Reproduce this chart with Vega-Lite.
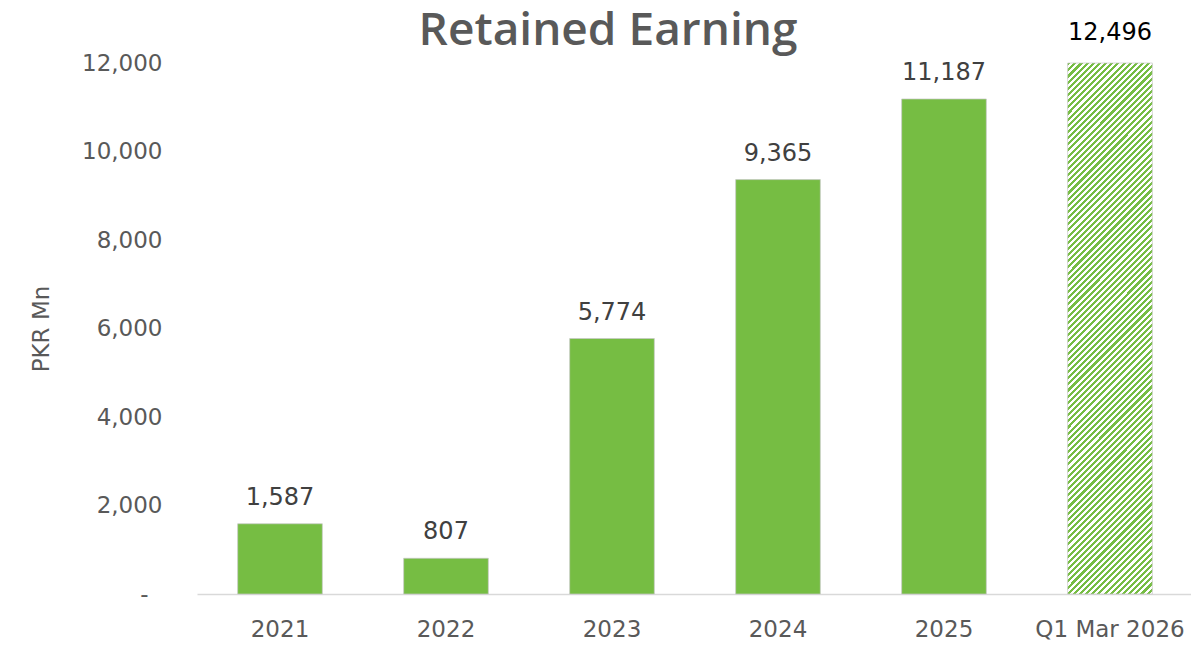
{
  "$schema": "https://vega.github.io/schema/vega-lite/v6.json",
  "autosize": "none",
  "width": 996,
  "height": 531,
  "padding": {"left": 197, "top": 63, "right": 0, "bottom": 56},
  "background": "#ffffff",
  "title": {
    "text": "Retained Earning",
    "font": "Open Sans",
    "fontSize": 46,
    "fontWeight": 600,
    "color": "#595959",
    "frame": "group",
    "anchor": "middle",
    "dx": -87,
    "baseline": "alphabetic",
    "offset": -70
  },
  "data": {
    "values": [
      {"year": "2021", "value": 1587},
      {"year": "2022", "value": 807},
      {"year": "2023", "value": 5774},
      {"year": "2024", "value": 9365},
      {"year": "2025", "value": 11187},
      {"year": "Q1 Mar 2026", "value": 12496}
    ]
  },
  "config": {
    "view": {"stroke": null},
    "axis": {
      "labelFont": "DejaVu Sans",
      "titleFont": "DejaVu Sans",
      "labelColor": "#595959",
      "titleColor": "#595959",
      "grid": false,
      "ticks": false
    }
  },
  "encoding": {
    "x": {
      "field": "year",
      "type": "nominal",
      "sort": null,
      "scale": {"paddingInner": 0.49, "paddingOuter": 0.245},
      "axis": {
        "title": null,
        "labelAngle": 0,
        "labelFontSize": 23,
        "labelPadding": 24,
        "domainColor": "#d9d9d9",
        "domainWidth": 1.5
      }
    },
    "y": {
      "field": "value",
      "type": "quantitative",
      "scale": {"domain": [0, 12000], "nice": false, "clamp": true},
      "axis": {
        "title": "PKR Mn",
        "titleFontSize": 23,
        "titleFontWeight": "normal",
        "titlePadding": 28,
        "labelFontSize": 23,
        "labelPadding": {"condition": {"test": "datum.value === 0", "value": 49}, "value": 35},
        "domain": false,
        "values": [0, 2000, 4000, 6000, 8000, 10000, 12000],
        "labelExpr": "datum.value === 0 ? '-' : format(datum.value, ',')"
      }
    }
  },
  "layer": [
    {
      "transform": [{"filter": "datum.year !== 'Q1 Mar 2026'"}],
      "mark": {"type": "bar", "color": "#76bd43", "stroke": "#c8c8c8", "strokeWidth": 1, "strokeOpacity": 0.7}
    },
    {
      "transform": [{"filter": "datum.year === 'Q1 Mar 2026'"}],
      "mark": {
        "type": "bar",
        "stroke": "#c8c8c8",
        "strokeWidth": 1,
        "strokeOpacity": 0.7,
        "fill": {
          "gradient": "linear",
          "x1": 0, "y1": 0, "x2": 0.1804, "y2": 1.1307,
          "stops": [
{"offset":0,"color":"#76bd43"},{"offset":0.005,"color":"#76bd43"},{"offset":0.005,"color":"#ffffff"},{"offset":0.01,"color":"#ffffff"},
{"offset":0.01,"color":"#76bd43"},{"offset":0.015,"color":"#76bd43"},{"offset":0.015,"color":"#ffffff"},{"offset":0.02,"color":"#ffffff"},
{"offset":0.02,"color":"#76bd43"},{"offset":0.025,"color":"#76bd43"},{"offset":0.025,"color":"#ffffff"},{"offset":0.03,"color":"#ffffff"},
{"offset":0.03,"color":"#76bd43"},{"offset":0.035,"color":"#76bd43"},{"offset":0.035,"color":"#ffffff"},{"offset":0.04,"color":"#ffffff"},
{"offset":0.04,"color":"#76bd43"},{"offset":0.045,"color":"#76bd43"},{"offset":0.045,"color":"#ffffff"},{"offset":0.05,"color":"#ffffff"},
{"offset":0.05,"color":"#76bd43"},{"offset":0.055,"color":"#76bd43"},{"offset":0.055,"color":"#ffffff"},{"offset":0.06,"color":"#ffffff"},
{"offset":0.06,"color":"#76bd43"},{"offset":0.065,"color":"#76bd43"},{"offset":0.065,"color":"#ffffff"},{"offset":0.07,"color":"#ffffff"},
{"offset":0.07,"color":"#76bd43"},{"offset":0.075,"color":"#76bd43"},{"offset":0.075,"color":"#ffffff"},{"offset":0.08,"color":"#ffffff"},
{"offset":0.08,"color":"#76bd43"},{"offset":0.085,"color":"#76bd43"},{"offset":0.085,"color":"#ffffff"},{"offset":0.09,"color":"#ffffff"},
{"offset":0.09,"color":"#76bd43"},{"offset":0.095,"color":"#76bd43"},{"offset":0.095,"color":"#ffffff"},{"offset":0.1,"color":"#ffffff"},
{"offset":0.1,"color":"#76bd43"},{"offset":0.105,"color":"#76bd43"},{"offset":0.105,"color":"#ffffff"},{"offset":0.11,"color":"#ffffff"},
{"offset":0.11,"color":"#76bd43"},{"offset":0.115,"color":"#76bd43"},{"offset":0.115,"color":"#ffffff"},{"offset":0.12,"color":"#ffffff"},
{"offset":0.12,"color":"#76bd43"},{"offset":0.125,"color":"#76bd43"},{"offset":0.125,"color":"#ffffff"},{"offset":0.13,"color":"#ffffff"},
{"offset":0.13,"color":"#76bd43"},{"offset":0.135,"color":"#76bd43"},{"offset":0.135,"color":"#ffffff"},{"offset":0.14,"color":"#ffffff"},
{"offset":0.14,"color":"#76bd43"},{"offset":0.145,"color":"#76bd43"},{"offset":0.145,"color":"#ffffff"},{"offset":0.15,"color":"#ffffff"},
{"offset":0.15,"color":"#76bd43"},{"offset":0.155,"color":"#76bd43"},{"offset":0.155,"color":"#ffffff"},{"offset":0.16,"color":"#ffffff"},
{"offset":0.16,"color":"#76bd43"},{"offset":0.165,"color":"#76bd43"},{"offset":0.165,"color":"#ffffff"},{"offset":0.17,"color":"#ffffff"},
{"offset":0.17,"color":"#76bd43"},{"offset":0.175,"color":"#76bd43"},{"offset":0.175,"color":"#ffffff"},{"offset":0.18,"color":"#ffffff"},
{"offset":0.18,"color":"#76bd43"},{"offset":0.185,"color":"#76bd43"},{"offset":0.185,"color":"#ffffff"},{"offset":0.19,"color":"#ffffff"},
{"offset":0.19,"color":"#76bd43"},{"offset":0.195,"color":"#76bd43"},{"offset":0.195,"color":"#ffffff"},{"offset":0.2,"color":"#ffffff"},
{"offset":0.2,"color":"#76bd43"},{"offset":0.205,"color":"#76bd43"},{"offset":0.205,"color":"#ffffff"},{"offset":0.21,"color":"#ffffff"},
{"offset":0.21,"color":"#76bd43"},{"offset":0.215,"color":"#76bd43"},{"offset":0.215,"color":"#ffffff"},{"offset":0.22,"color":"#ffffff"},
{"offset":0.22,"color":"#76bd43"},{"offset":0.225,"color":"#76bd43"},{"offset":0.225,"color":"#ffffff"},{"offset":0.23,"color":"#ffffff"},
{"offset":0.23,"color":"#76bd43"},{"offset":0.235,"color":"#76bd43"},{"offset":0.235,"color":"#ffffff"},{"offset":0.24,"color":"#ffffff"},
{"offset":0.24,"color":"#76bd43"},{"offset":0.245,"color":"#76bd43"},{"offset":0.245,"color":"#ffffff"},{"offset":0.25,"color":"#ffffff"},
{"offset":0.25,"color":"#76bd43"},{"offset":0.255,"color":"#76bd43"},{"offset":0.255,"color":"#ffffff"},{"offset":0.26,"color":"#ffffff"},
{"offset":0.26,"color":"#76bd43"},{"offset":0.265,"color":"#76bd43"},{"offset":0.265,"color":"#ffffff"},{"offset":0.27,"color":"#ffffff"},
{"offset":0.27,"color":"#76bd43"},{"offset":0.275,"color":"#76bd43"},{"offset":0.275,"color":"#ffffff"},{"offset":0.28,"color":"#ffffff"},
{"offset":0.28,"color":"#76bd43"},{"offset":0.285,"color":"#76bd43"},{"offset":0.285,"color":"#ffffff"},{"offset":0.29,"color":"#ffffff"},
{"offset":0.29,"color":"#76bd43"},{"offset":0.295,"color":"#76bd43"},{"offset":0.295,"color":"#ffffff"},{"offset":0.3,"color":"#ffffff"},
{"offset":0.3,"color":"#76bd43"},{"offset":0.305,"color":"#76bd43"},{"offset":0.305,"color":"#ffffff"},{"offset":0.31,"color":"#ffffff"},
{"offset":0.31,"color":"#76bd43"},{"offset":0.315,"color":"#76bd43"},{"offset":0.315,"color":"#ffffff"},{"offset":0.32,"color":"#ffffff"},
{"offset":0.32,"color":"#76bd43"},{"offset":0.325,"color":"#76bd43"},{"offset":0.325,"color":"#ffffff"},{"offset":0.33,"color":"#ffffff"},
{"offset":0.33,"color":"#76bd43"},{"offset":0.335,"color":"#76bd43"},{"offset":0.335,"color":"#ffffff"},{"offset":0.34,"color":"#ffffff"},
{"offset":0.34,"color":"#76bd43"},{"offset":0.345,"color":"#76bd43"},{"offset":0.345,"color":"#ffffff"},{"offset":0.35,"color":"#ffffff"},
{"offset":0.35,"color":"#76bd43"},{"offset":0.355,"color":"#76bd43"},{"offset":0.355,"color":"#ffffff"},{"offset":0.36,"color":"#ffffff"},
{"offset":0.36,"color":"#76bd43"},{"offset":0.365,"color":"#76bd43"},{"offset":0.365,"color":"#ffffff"},{"offset":0.37,"color":"#ffffff"},
{"offset":0.37,"color":"#76bd43"},{"offset":0.375,"color":"#76bd43"},{"offset":0.375,"color":"#ffffff"},{"offset":0.38,"color":"#ffffff"},
{"offset":0.38,"color":"#76bd43"},{"offset":0.385,"color":"#76bd43"},{"offset":0.385,"color":"#ffffff"},{"offset":0.39,"color":"#ffffff"},
{"offset":0.39,"color":"#76bd43"},{"offset":0.395,"color":"#76bd43"},{"offset":0.395,"color":"#ffffff"},{"offset":0.4,"color":"#ffffff"},
{"offset":0.4,"color":"#76bd43"},{"offset":0.405,"color":"#76bd43"},{"offset":0.405,"color":"#ffffff"},{"offset":0.41,"color":"#ffffff"},
{"offset":0.41,"color":"#76bd43"},{"offset":0.415,"color":"#76bd43"},{"offset":0.415,"color":"#ffffff"},{"offset":0.42,"color":"#ffffff"},
{"offset":0.42,"color":"#76bd43"},{"offset":0.425,"color":"#76bd43"},{"offset":0.425,"color":"#ffffff"},{"offset":0.43,"color":"#ffffff"},
{"offset":0.43,"color":"#76bd43"},{"offset":0.435,"color":"#76bd43"},{"offset":0.435,"color":"#ffffff"},{"offset":0.44,"color":"#ffffff"},
{"offset":0.44,"color":"#76bd43"},{"offset":0.445,"color":"#76bd43"},{"offset":0.445,"color":"#ffffff"},{"offset":0.45,"color":"#ffffff"},
{"offset":0.45,"color":"#76bd43"},{"offset":0.455,"color":"#76bd43"},{"offset":0.455,"color":"#ffffff"},{"offset":0.46,"color":"#ffffff"},
{"offset":0.46,"color":"#76bd43"},{"offset":0.465,"color":"#76bd43"},{"offset":0.465,"color":"#ffffff"},{"offset":0.47,"color":"#ffffff"},
{"offset":0.47,"color":"#76bd43"},{"offset":0.475,"color":"#76bd43"},{"offset":0.475,"color":"#ffffff"},{"offset":0.48,"color":"#ffffff"},
{"offset":0.48,"color":"#76bd43"},{"offset":0.485,"color":"#76bd43"},{"offset":0.485,"color":"#ffffff"},{"offset":0.49,"color":"#ffffff"},
{"offset":0.49,"color":"#76bd43"},{"offset":0.495,"color":"#76bd43"},{"offset":0.495,"color":"#ffffff"},{"offset":0.5,"color":"#ffffff"},
{"offset":0.5,"color":"#76bd43"},{"offset":0.505,"color":"#76bd43"},{"offset":0.505,"color":"#ffffff"},{"offset":0.51,"color":"#ffffff"},
{"offset":0.51,"color":"#76bd43"},{"offset":0.515,"color":"#76bd43"},{"offset":0.515,"color":"#ffffff"},{"offset":0.52,"color":"#ffffff"},
{"offset":0.52,"color":"#76bd43"},{"offset":0.525,"color":"#76bd43"},{"offset":0.525,"color":"#ffffff"},{"offset":0.53,"color":"#ffffff"},
{"offset":0.53,"color":"#76bd43"},{"offset":0.535,"color":"#76bd43"},{"offset":0.535,"color":"#ffffff"},{"offset":0.54,"color":"#ffffff"},
{"offset":0.54,"color":"#76bd43"},{"offset":0.545,"color":"#76bd43"},{"offset":0.545,"color":"#ffffff"},{"offset":0.55,"color":"#ffffff"},
{"offset":0.55,"color":"#76bd43"},{"offset":0.555,"color":"#76bd43"},{"offset":0.555,"color":"#ffffff"},{"offset":0.56,"color":"#ffffff"},
{"offset":0.56,"color":"#76bd43"},{"offset":0.565,"color":"#76bd43"},{"offset":0.565,"color":"#ffffff"},{"offset":0.57,"color":"#ffffff"},
{"offset":0.57,"color":"#76bd43"},{"offset":0.575,"color":"#76bd43"},{"offset":0.575,"color":"#ffffff"},{"offset":0.58,"color":"#ffffff"},
{"offset":0.58,"color":"#76bd43"},{"offset":0.585,"color":"#76bd43"},{"offset":0.585,"color":"#ffffff"},{"offset":0.59,"color":"#ffffff"},
{"offset":0.59,"color":"#76bd43"},{"offset":0.595,"color":"#76bd43"},{"offset":0.595,"color":"#ffffff"},{"offset":0.6,"color":"#ffffff"},
{"offset":0.6,"color":"#76bd43"},{"offset":0.605,"color":"#76bd43"},{"offset":0.605,"color":"#ffffff"},{"offset":0.61,"color":"#ffffff"},
{"offset":0.61,"color":"#76bd43"},{"offset":0.615,"color":"#76bd43"},{"offset":0.615,"color":"#ffffff"},{"offset":0.62,"color":"#ffffff"},
{"offset":0.62,"color":"#76bd43"},{"offset":0.625,"color":"#76bd43"},{"offset":0.625,"color":"#ffffff"},{"offset":0.63,"color":"#ffffff"},
{"offset":0.63,"color":"#76bd43"},{"offset":0.635,"color":"#76bd43"},{"offset":0.635,"color":"#ffffff"},{"offset":0.64,"color":"#ffffff"},
{"offset":0.64,"color":"#76bd43"},{"offset":0.645,"color":"#76bd43"},{"offset":0.645,"color":"#ffffff"},{"offset":0.65,"color":"#ffffff"},
{"offset":0.65,"color":"#76bd43"},{"offset":0.655,"color":"#76bd43"},{"offset":0.655,"color":"#ffffff"},{"offset":0.66,"color":"#ffffff"},
{"offset":0.66,"color":"#76bd43"},{"offset":0.665,"color":"#76bd43"},{"offset":0.665,"color":"#ffffff"},{"offset":0.67,"color":"#ffffff"},
{"offset":0.67,"color":"#76bd43"},{"offset":0.675,"color":"#76bd43"},{"offset":0.675,"color":"#ffffff"},{"offset":0.68,"color":"#ffffff"},
{"offset":0.68,"color":"#76bd43"},{"offset":0.685,"color":"#76bd43"},{"offset":0.685,"color":"#ffffff"},{"offset":0.69,"color":"#ffffff"},
{"offset":0.69,"color":"#76bd43"},{"offset":0.695,"color":"#76bd43"},{"offset":0.695,"color":"#ffffff"},{"offset":0.7,"color":"#ffffff"},
{"offset":0.7,"color":"#76bd43"},{"offset":0.705,"color":"#76bd43"},{"offset":0.705,"color":"#ffffff"},{"offset":0.71,"color":"#ffffff"},
{"offset":0.71,"color":"#76bd43"},{"offset":0.715,"color":"#76bd43"},{"offset":0.715,"color":"#ffffff"},{"offset":0.72,"color":"#ffffff"},
{"offset":0.72,"color":"#76bd43"},{"offset":0.725,"color":"#76bd43"},{"offset":0.725,"color":"#ffffff"},{"offset":0.73,"color":"#ffffff"},
{"offset":0.73,"color":"#76bd43"},{"offset":0.735,"color":"#76bd43"},{"offset":0.735,"color":"#ffffff"},{"offset":0.74,"color":"#ffffff"},
{"offset":0.74,"color":"#76bd43"},{"offset":0.745,"color":"#76bd43"},{"offset":0.745,"color":"#ffffff"},{"offset":0.75,"color":"#ffffff"},
{"offset":0.75,"color":"#76bd43"},{"offset":0.755,"color":"#76bd43"},{"offset":0.755,"color":"#ffffff"},{"offset":0.76,"color":"#ffffff"},
{"offset":0.76,"color":"#76bd43"},{"offset":0.765,"color":"#76bd43"},{"offset":0.765,"color":"#ffffff"},{"offset":0.77,"color":"#ffffff"},
{"offset":0.77,"color":"#76bd43"},{"offset":0.775,"color":"#76bd43"},{"offset":0.775,"color":"#ffffff"},{"offset":0.78,"color":"#ffffff"},
{"offset":0.78,"color":"#76bd43"},{"offset":0.785,"color":"#76bd43"},{"offset":0.785,"color":"#ffffff"},{"offset":0.79,"color":"#ffffff"},
{"offset":0.79,"color":"#76bd43"},{"offset":0.795,"color":"#76bd43"},{"offset":0.795,"color":"#ffffff"},{"offset":0.8,"color":"#ffffff"},
{"offset":0.8,"color":"#76bd43"},{"offset":0.805,"color":"#76bd43"},{"offset":0.805,"color":"#ffffff"},{"offset":0.81,"color":"#ffffff"},
{"offset":0.81,"color":"#76bd43"},{"offset":0.815,"color":"#76bd43"},{"offset":0.815,"color":"#ffffff"},{"offset":0.82,"color":"#ffffff"},
{"offset":0.82,"color":"#76bd43"},{"offset":0.825,"color":"#76bd43"},{"offset":0.825,"color":"#ffffff"},{"offset":0.83,"color":"#ffffff"},
{"offset":0.83,"color":"#76bd43"},{"offset":0.835,"color":"#76bd43"},{"offset":0.835,"color":"#ffffff"},{"offset":0.84,"color":"#ffffff"},
{"offset":0.84,"color":"#76bd43"},{"offset":0.845,"color":"#76bd43"},{"offset":0.845,"color":"#ffffff"},{"offset":0.85,"color":"#ffffff"},
{"offset":0.85,"color":"#76bd43"},{"offset":0.855,"color":"#76bd43"},{"offset":0.855,"color":"#ffffff"},{"offset":0.86,"color":"#ffffff"},
{"offset":0.86,"color":"#76bd43"},{"offset":0.865,"color":"#76bd43"},{"offset":0.865,"color":"#ffffff"},{"offset":0.87,"color":"#ffffff"},
{"offset":0.87,"color":"#76bd43"},{"offset":0.875,"color":"#76bd43"},{"offset":0.875,"color":"#ffffff"},{"offset":0.88,"color":"#ffffff"},
{"offset":0.88,"color":"#76bd43"},{"offset":0.885,"color":"#76bd43"},{"offset":0.885,"color":"#ffffff"},{"offset":0.89,"color":"#ffffff"},
{"offset":0.89,"color":"#76bd43"},{"offset":0.895,"color":"#76bd43"},{"offset":0.895,"color":"#ffffff"},{"offset":0.9,"color":"#ffffff"},
{"offset":0.9,"color":"#76bd43"},{"offset":0.905,"color":"#76bd43"},{"offset":0.905,"color":"#ffffff"},{"offset":0.91,"color":"#ffffff"},
{"offset":0.91,"color":"#76bd43"},{"offset":0.915,"color":"#76bd43"},{"offset":0.915,"color":"#ffffff"},{"offset":0.92,"color":"#ffffff"},
{"offset":0.92,"color":"#76bd43"},{"offset":0.925,"color":"#76bd43"},{"offset":0.925,"color":"#ffffff"},{"offset":0.93,"color":"#ffffff"},
{"offset":0.93,"color":"#76bd43"},{"offset":0.935,"color":"#76bd43"},{"offset":0.935,"color":"#ffffff"},{"offset":0.94,"color":"#ffffff"},
{"offset":0.94,"color":"#76bd43"},{"offset":0.945,"color":"#76bd43"},{"offset":0.945,"color":"#ffffff"},{"offset":0.95,"color":"#ffffff"},
{"offset":0.95,"color":"#76bd43"},{"offset":0.955,"color":"#76bd43"},{"offset":0.955,"color":"#ffffff"},{"offset":0.96,"color":"#ffffff"},
{"offset":0.96,"color":"#76bd43"},{"offset":0.965,"color":"#76bd43"},{"offset":0.965,"color":"#ffffff"},{"offset":0.97,"color":"#ffffff"},
{"offset":0.97,"color":"#76bd43"},{"offset":0.975,"color":"#76bd43"},{"offset":0.975,"color":"#ffffff"},{"offset":0.98,"color":"#ffffff"},
{"offset":0.98,"color":"#76bd43"},{"offset":0.985,"color":"#76bd43"},{"offset":0.985,"color":"#ffffff"},{"offset":0.99,"color":"#ffffff"},
{"offset":0.99,"color":"#76bd43"},{"offset":0.995,"color":"#76bd43"},{"offset":0.995,"color":"#ffffff"},{"offset":1,"color":"#ffffff"}
          ]
        }
      }
    },
    {
      "transform": [{"filter": "datum.year !== 'Q1 Mar 2026'"}],
      "mark": {"type": "text", "font": "DejaVu Sans", "fontSize": 24, "color": "#404040", "baseline": "middle", "dy": -26},
      "encoding": {"text": {"field": "value", "type": "quantitative", "format": ","}}
    },
    {
      "transform": [{"filter": "datum.year === 'Q1 Mar 2026'"}],
      "mark": {"type": "text", "font": "DejaVu Sans", "fontSize": 24, "color": "#000000", "baseline": "middle", "dy": -30},
      "encoding": {"text": {"field": "value", "type": "quantitative", "format": ","}}
    }
  ]
}
